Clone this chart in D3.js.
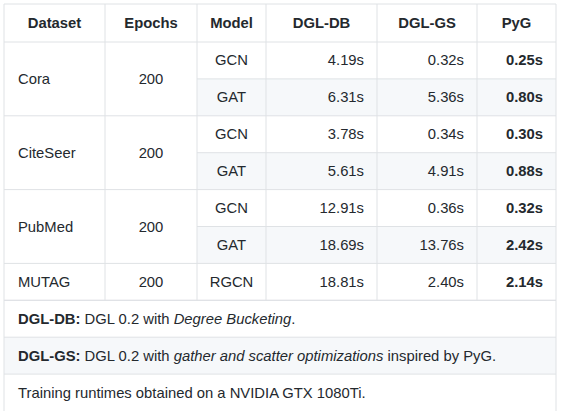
<!DOCTYPE html>
<html><head><meta charset="utf-8">
<script src="https://cdn.jsdelivr.net/npm/d3@7"></script>
<style>body{margin:0;background:#fff}</style></head><body>
<svg id="c" width="563" height="417"></svg>
<script>
const headers=["Dataset","Epochs","Model","DGL-DB","DGL-GS","PyG"];
const datasets=["Cora","CiteSeer","PubMed","MUTAG"];
const epochs=[200,200,200,200];
const models=[["GCN","GAT"],["GCN","GAT"],["GCN","GAT"],["RGCN"]];
const dglDB=[[4.19,6.31],[3.78,5.61],[12.91,18.69],[18.81]];
const dglGS=[[0.32,5.36],[0.34,4.91],[0.36,13.76],[2.40]];
const pyg=[[0.25,0.80],[0.30,0.88],[0.32,2.42],[2.14]];
const notes=[
 [["DGL-DB:","b"],[" DGL 0.2 with ",""],["Degree Bucketing","i"],[".",""]],
 [["DGL-GS:","b"],[" DGL 0.2 with ",""],["gather and scatter optimizations","i"],[" inspired by PyG.",""]],
 [["Training runtimes obtained on a NVIDIA GTX 1080Ti.",""]]
];
const colEdges=[4,105,197,266,377,477,556];
const nRows=11;
const y=d3.scaleLinear().domain([1,nRows]).range([42,411]);
const svg=d3.select("#c");
const F="'Liberation Sans',Arial,sans-serif", C="#24292e", B="#dfe2e5", G="#f6f8fa", FS=14.8;
const rows=[];
datasets.forEach((d,i)=>models[i].forEach((m,j)=>rows.push({i,j,m,n:models[i].length})));
rows.forEach((r,k)=>{
  const ri=k+1;
  if(r.j%2===1) svg.append("rect").attr("x",colEdges[2]).attr("y",y(ri)).attr("width",colEdges[6]-colEdges[2]).attr("height",y(ri+1)-y(ri)).attr("fill",G);
});
notes.forEach((n,k)=>{const ri=rows.length+1+k; if(k===1) svg.append("rect").attr("x",colEdges[0]).attr("y",y(ri)).attr("width",colEdges[6]-colEdges[0]).attr("height",y(ri+1)-y(ri)).attr("fill",G);});
const line=(x1,y1,x2,y2)=>svg.append("line").attr("x1",x1).attr("y1",y1).attr("x2",x2).attr("y2",y2).attr("stroke",B).attr("stroke-width",1);
const txt=(x,yy,s,anchor,bold)=>svg.append("text").attr("x",x).attr("y",yy).attr("text-anchor",anchor).attr("font-family",F).attr("font-size",FS).attr("font-weight",bold?"bold":"normal").attr("fill",C).attr("dominant-baseline","central").text(s);
headers.forEach((h,c)=>txt((colEdges[c]+colEdges[c+1])/2,(4+42)/2,h,"middle",true));
let ri=1;
datasets.forEach((d,i)=>{
  const n=models[i].length, top=y(ri), bot=y(ri+n);
  txt(colEdges[0]+14,(top+bot)/2,d,"start");
  txt((colEdges[1]+colEdges[2])/2,(top+bot)/2,epochs[i],"middle");
  models[i].forEach((m,j)=>{
    const cy=(y(ri+j)+y(ri+j+1))/2;
    txt((colEdges[2]+colEdges[3])/2,cy,m,"middle");
    txt(colEdges[4]-13,cy,dglDB[i][j].toFixed(2)+"s","end");
    txt(colEdges[5]-13,cy,dglGS[i][j].toFixed(2)+"s","end");
    txt(colEdges[6]-13,cy,pyg[i][j].toFixed(2)+"s","end",true);
    if(j>0) line(colEdges[2],y(ri+j),colEdges[6],y(ri+j));
  });
  ri+=n;
});
notes.forEach((n,k)=>{
  const r=rows.length+1+k, cy=(y(r)+y(r+1))/2;
  const t=svg.append("text").attr("x",colEdges[0]+14).attr("y",cy).attr("font-family",F).attr("font-size",FS).attr("fill",C).attr("dominant-baseline","central");
  n.forEach(([s,st])=>t.append("tspan").attr("font-weight",st==="b"?"bold":"normal").attr("font-style",st==="i"?"italic":"normal").text(s));
});
line(colEdges[0],4,colEdges[6],4);
line(colEdges[0],42,colEdges[6],42);
ri=1;
datasets.forEach((d,i)=>{ri+=models[i].length; line(colEdges[0],y(ri),colEdges[6],y(ri));});
for(let k=1;k<=3;k++) line(colEdges[0],y(rows.length+k),colEdges[6],y(rows.length+k));
line(colEdges[0],4,colEdges[0],411); line(colEdges[6],4,colEdges[6],411);
for(let c=1;c<6;c++) line(colEdges[c],4,colEdges[c],y(rows.length+1));
</script></body></html>
